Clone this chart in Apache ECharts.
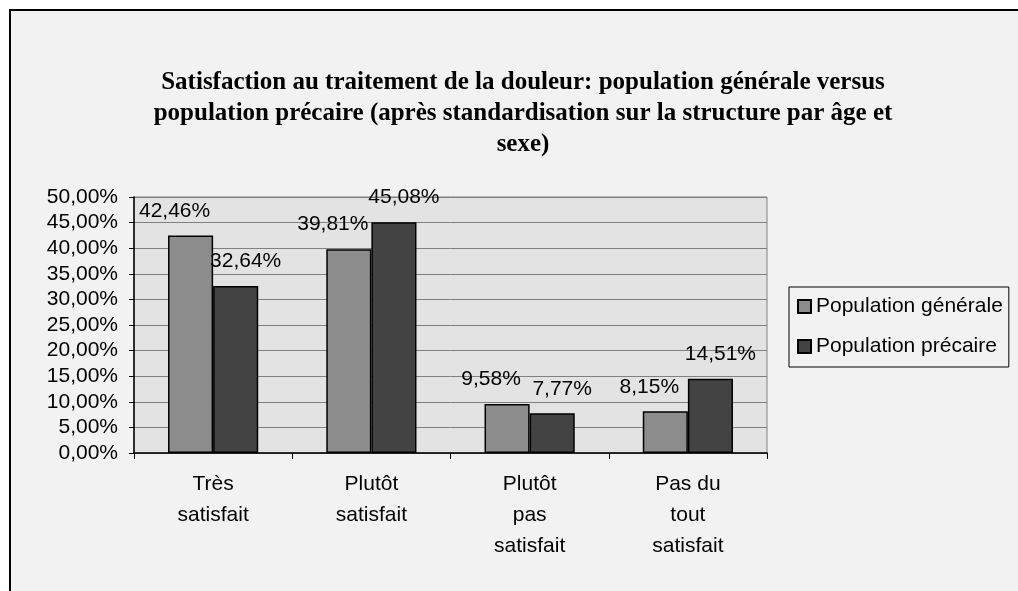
<!DOCTYPE html>
<html>
<head>
<meta charset="utf-8">
<script src="https://cdn.jsdelivr.net/npm/echarts@6/dist/echarts.min.js"></script>
<style>
  html, body { margin: 0; padding: 0; background: #fff; }
  #chart { width: 1018px; height: 591px; }
</style>
</head>
<body>
<div id="chart"></div>
<script>
var categories = ['Très\nsatisfait', 'Plutôt\nsatisfait', 'Plutôt\npas\nsatisfait', 'Pas du\ntout\nsatisfait'];
var seriesNames = ['Population générale', 'Population précaire'];
var generale = [42.46, 39.81, 9.58, 8.15];
var precaire = [32.64, 45.08, 7.77, 14.51];

function pct(v) {
    return v.toFixed(2).replace('.', ',') + '%';
}

var sansFont = 'Liberation Sans, Arial, sans-serif';

var myChart = echarts.init(document.getElementById('chart'));
var option = {
    backgroundColor: '#fff',
    animation: false,
    graphic: [{
        type: 'rect',
        z: -10,
        shape: { x: 10, y: 10, width: 1100, height: 700 },
        style: { fill: '#f2f2f2', stroke: '#000', lineWidth: 2 }
    }],
    title: {
        text: 'Satisfaction au traitement de la douleur: population générale versus\npopulation précaire (après standardisation sur la structure par âge et\nsexe)',
        left: 523,
        top: 67,
        padding: 0,
        textAlign: 'center',
        textStyle: {
            fontFamily: 'Liberation Serif, Times New Roman, serif',
            fontWeight: 'bold',
            fontSize: 25,
            lineHeight: 31,
            color: '#000'
        }
    },
    legend: {
        orient: 'vertical',
        left: 789,
        top: 287,
        data: seriesNames,
        backgroundColor: '#f2f2f2',
        borderColor: '#000',
        borderWidth: 1,
        padding: [9, 6, 10, 8],
        itemWidth: 13,
        itemHeight: 13,
        itemGap: 19,
        icon: 'rect',
        textStyle: { fontFamily: sansFont, fontSize: 21, lineHeight: 20, color: '#000' }
    },
    grid: {
        left: 134,
        right: 251,
        top: 197,
        bottom: 138,
        show: true,
        backgroundColor: '#e3e3e3',
        borderColor: '#808080',
        borderWidth: 1
    },
    xAxis: {
        type: 'category',
        data: categories,
        axisLine: { lineStyle: { color: '#000', width: 1.5 } },
        axisTick: { show: true, length: 6, lineStyle: { color: '#000' } },
        axisLabel: {
            margin: 16,
            fontFamily: sansFont,
            fontSize: 21,
            lineHeight: 31,
            color: '#000'
        }
    },
    yAxis: {
        type: 'value',
        min: 0,
        max: 50,
        interval: 5,
        axisLine: { show: true, lineStyle: { color: '#000', width: 1.5 } },
        axisTick: { show: true, length: 5, lineStyle: { color: '#000' } },
        splitLine: { lineStyle: { color: '#808080', width: 1 } },
        axisLabel: {
            margin: 16,
            fontFamily: sansFont,
            fontSize: 21,
            color: '#000',
            formatter: pct
        }
    },
    series: [
        {
            name: seriesNames[0],
            type: 'bar',
            data: generale,
            barGap: '0%',
            barCategoryGap: '43%',
            itemStyle: { color: '#8c8c8c', borderColor: '#000', borderWidth: 1.5 },
            label: {
                show: true,
                position: 'top',
                distance: 14,
                offset: [-16, 0],
                fontFamily: sansFont,
                fontSize: 21,
                color: '#000',
                formatter: function (p) { return pct(p.value); }
            }
        },
        {
            name: seriesNames[1],
            type: 'bar',
            data: precaire,
            barGap: '0%',
            barCategoryGap: '43%',
            itemStyle: { color: '#434343', borderColor: '#000', borderWidth: 1.5 },
            label: {
                show: true,
                position: 'top',
                distance: 14,
                offset: [10, 0],
                fontFamily: sansFont,
                fontSize: 21,
                color: '#000',
                formatter: function (p) { return pct(p.value); }
            }
        }
    ]
};
myChart.setOption(option);
</script>
</body>
</html>
